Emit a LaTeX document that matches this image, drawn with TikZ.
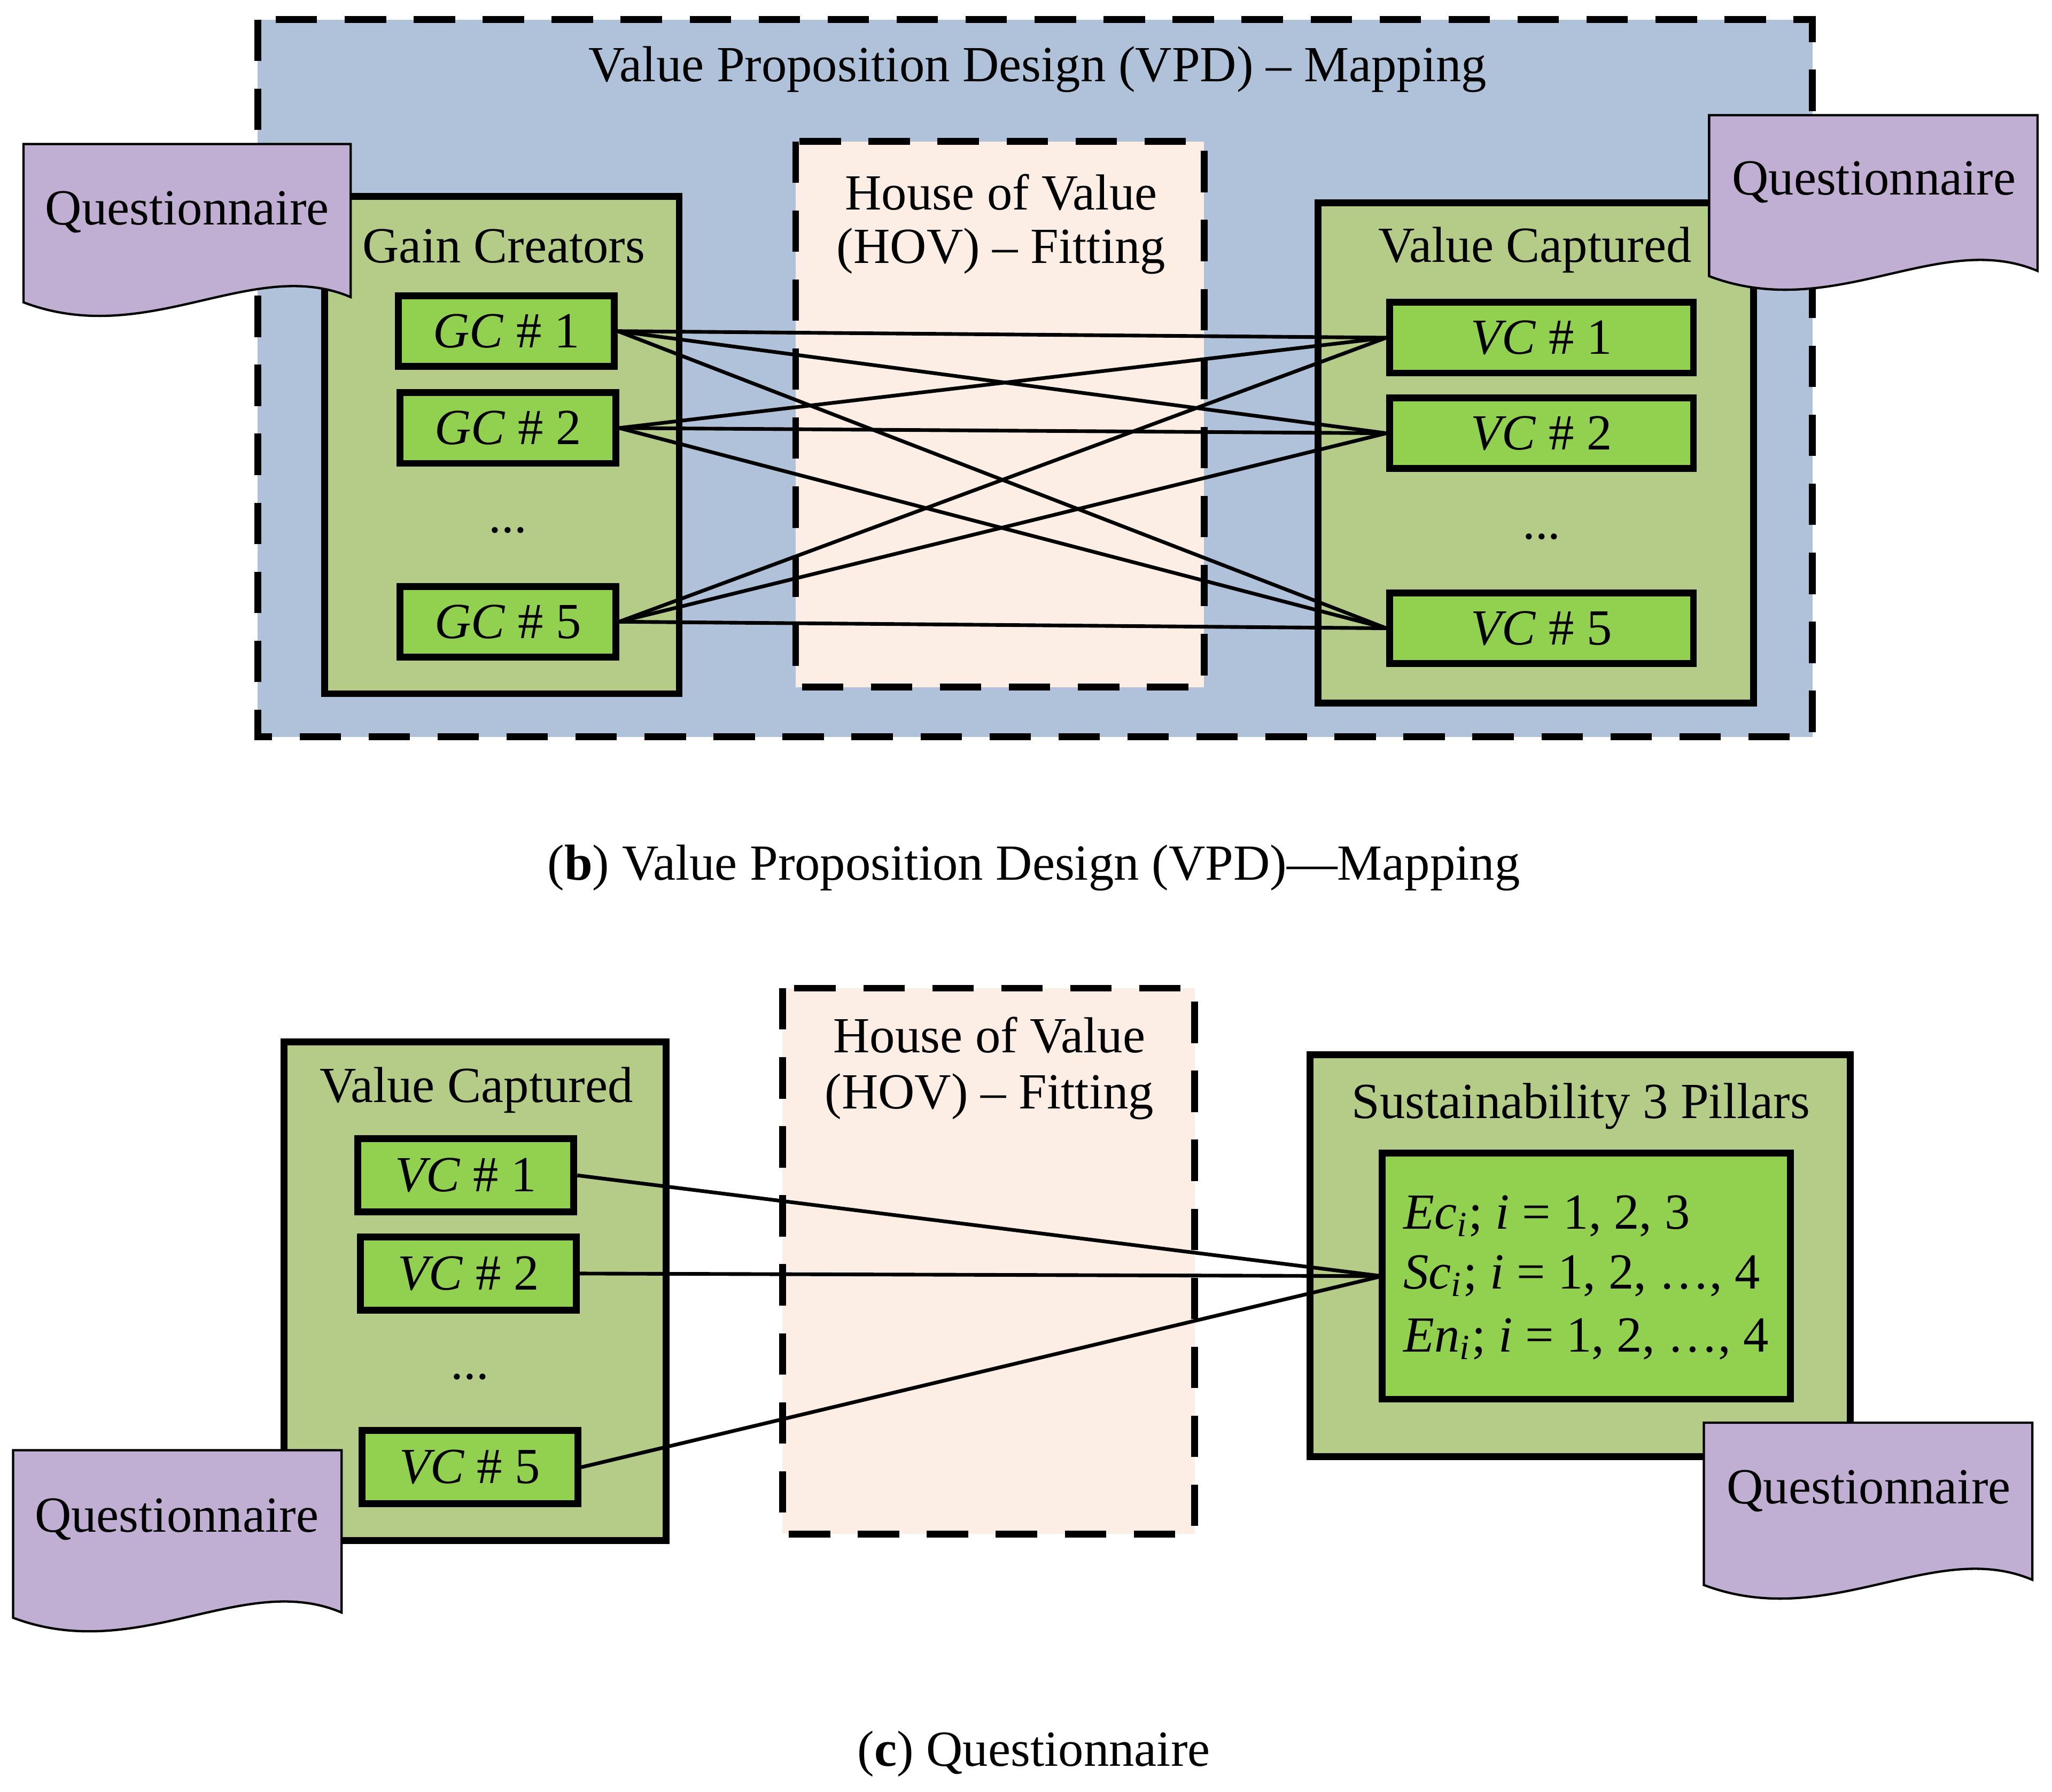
\documentclass[tikz,border=0pt]{standalone}
\usepackage{fontspec}
\setmainfont{Liberation Serif}
\begin{document}
\begin{tikzpicture}[x=0.1mm,y=-0.1mm,
  every node/.style={font=\fontsize{11}{13}\selectfont},
  outer/.style={draw=black,line width=1.5pt,dash pattern=on 9pt off 6pt},
  grp/.style={draw=black,line width=1.5pt,fill=grpfill},
  item/.style={draw=black,line width=1.5pt,fill=itemfill},
  con/.style={draw=black,line width=0.8pt},
  doc/.style={draw=black,line width=0.5pt,fill=docfill}]
\definecolor{bluefill}{HTML}{AFC2DA}
\definecolor{hovfill}{HTML}{FCEEE4}
\definecolor{grpfill}{HTML}{B5CB88}
\definecolor{itemfill}{HTML}{92D050}
\definecolor{docfill}{HTML}{C0AFD2}
\useasboundingbox (0,0) rectangle (1568,1369);
\newcommand{\docshape}[4]{% x1 y1 x2 y2
  \draw[doc] (#1,#2) -- (#3,#2) -- (#3,#4-18)
    .. controls ({#3-0.3*(#3-#1)},{#4-50}) and ({#1+0.38*(#3-#1)},{#4+22}) .. (#1,#4-14) -- cycle;}
% ---------- (b)
\filldraw[fill=bluefill,outer] (197,15) rectangle (1385,563);
\node (ttl) at (793,53) {Value Proposition Design (VPD) -- Mapping};
\filldraw[fill=hovfill,outer] (608,108) rectangle (920,525);
\node (hov1) at (765,147) {House of Value};
\node (hov2) at (765,192) {(HOV) -- Fitting};
\draw[grp] (248,150) rectangle (519,530);
\node (gct) at (385,188) {Gain Creators};
\draw[grp] (1007,155) rectangle (1340,537);
\node (vct) at (1173,191) {Value Captured};
\node[item,minimum width=16.5mm,minimum height=5.4mm] (gc1) at (387,253) {\textit{GC} \# 1};
\node[item,minimum width=16.5mm,minimum height=5.4mm] (gc2) at (388,327) {\textit{GC} \# 2};
\node (gcd) at (388,405) {...};
\node[item,minimum width=16.5mm,minimum height=5.4mm] (gc5) at (388,475) {\textit{GC} \# 5};
\node[item,minimum width=23.2mm,minimum height=5.4mm] (vc1) at (1178,258) {\textit{VC} \# 1};
\node[item,minimum width=23.2mm,minimum height=5.4mm] (vc2) at (1178,331) {\textit{VC} \# 2};
\node (vcd) at (1178,410) {...};
\node[item,minimum width=23.2mm,minimum height=5.4mm] (vc5) at (1178,480) {\textit{VC} \# 5};
\foreach \g in {gc1,gc2,gc5}{\foreach \v in {vc1,vc2,vc5}{\draw[con] (\g.east) -- (\v.west);}}
\docshape{18}{110}{268}{245}
\node (q1) at (143,162) {Questionnaire};
\docshape{1306}{88}{1557}{225}
\node (q2) at (1432,139) {Questionnaire};
\node (capb) at (790,663) {(\textbf{b}) Value Proposition Design (VPD)---Mapping};
% ---------- (c)
\filldraw[fill=hovfill,outer] (598,755) rectangle (913,1172);
\node (hov3) at (756,791) {House of Value};
\node (hov4) at (756,838) {(HOV) -- Fitting};
\draw[grp] (217,796) rectangle (509,1177);
\node (vct2) at (364,833) {Value Captured};
\node[item,minimum width=16.5mm,minimum height=5.6mm] (c1) at (356,898) {\textit{VC} \# 1};
\node[item,minimum width=16.5mm,minimum height=5.6mm] (c2) at (358,973) {\textit{VC} \# 2};
\node (cd) at (359,1052) {...};
\node[item,minimum width=16.5mm,minimum height=5.6mm] (c5) at (359,1121) {\textit{VC} \# 5};
\draw[grp] (1001,806) rectangle (1414,1113);
\node (sus) at (1208,845) {Sustainability 3 Pillars};
\draw[item] (1056,881) rectangle (1368,1069);
\coordinate (sp) at (1056,975);
\node[anchor=west] (e1) at (1060,929) {\textit{Ec\textsubscript{i}}; \textit{i} = 1, 2, 3};
\node[anchor=west] (e2) at (1060,975) {\textit{Sc\textsubscript{i}}; \textit{i} = 1, 2, \dots, 4};
\node[anchor=west] (e3) at (1060,1023) {\textit{En\textsubscript{i}}; \textit{i} = 1, 2, \dots, 4};
\draw[con] (c1.east) -- (sp);
\draw[con] (c2.east) -- (sp);
\draw[con] (c5.east) -- (sp);
\docshape{10}{1108}{261}{1250}
\node (q3) at (135,1161) {Questionnaire};
\docshape{1302}{1087}{1553}{1225}
\node (q4) at (1428,1139) {Questionnaire};
\node (capc) at (790,1340) {(\textbf{c}) Questionnaire};
\end{tikzpicture}
\end{document}
